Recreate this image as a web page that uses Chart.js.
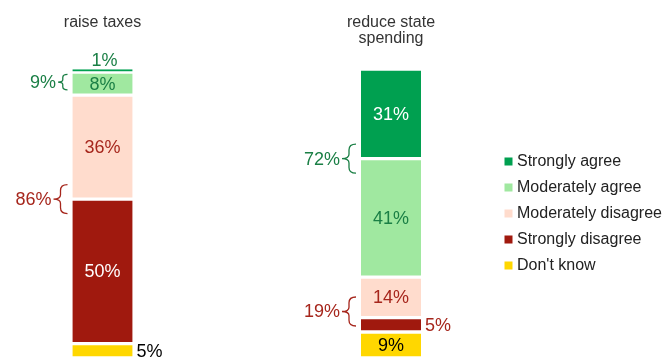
<!DOCTYPE html>
<html>
<head>
<meta charset="utf-8">
<script src="https://cdn.jsdelivr.net/npm/chart.js@4.4.1/dist/chart.umd.min.js"></script>
<style>
  html, body { margin: 0; padding: 0; background: #fff; }
  #wrap { width: 663px; height: 358px; }
</style>
</head>
<body>
<div id="wrap"><canvas id="chart" width="663" height="358"></canvas></div>
<script>
const categories = [['raise taxes'], ['reduce state', 'spending']];
const seriesNames = ["Don't know", 'Strongly disagree', 'Moderately disagree', 'Moderately agree', 'Strongly agree'];

// stacked bottom -> top
const dontKnow = [5, 9];
const stronglyDisagree = [50, 5];
const moderatelyDisagree = [36, 14];
const moderatelyAgree = [8, 41];
const stronglyAgree = [1, 31];

const FONT = '"Liberation Sans", Arial, sans-serif';
const GREEN_TEXT = '#1a7f45';
const RED_TEXT = '#a6261c';

const fills = ['#ffd700', '#a0190e', '#ffdccd', '#a0e8a0', '#00a050'];
const insideColors = ['#000000', '#ffffff', RED_TEXT, GREEN_TEXT, '#ffffff'];
const outsideColors = ['#000000', RED_TEXT, RED_TEXT, GREEN_TEXT, GREEN_TEXT];

// brace groups: which datasets are summed together
const groups = [
  { sets: [3, 4], color: GREEN_TEXT },
  { sets: [1, 2], color: RED_TEXT }
];

const seriesValues = [dontKnow, stronglyDisagree, moderatelyDisagree, moderatelyAgree, stronglyAgree];

const datasets = seriesValues.map((values, k) => ({
  label: seriesNames[k],
  data: values.map((v, i) => ({ x: i, y: v })),
  backgroundColor: fills[k],
  borderColor: '#ffffff',
  borderSkipped: false,
  borderWidth: (c) => (c.raw && c.raw.y < 2)
    ? { top: 0, bottom: 1, left: 0, right: 0 }
    : { top: 2, bottom: 2, left: 0, right: 0 },
  barThickness: 60
}));

function drawBrace(ctx, xTip, yc, h, w) {
  const x1 = xTip + w;
  const xm = xTip + w / 2;
  const top = yc - h / 2;
  const bot = yc + h / 2;
  ctx.beginPath();
  ctx.moveTo(x1, top);
  ctx.quadraticCurveTo(xm, top, xm, top + h * 0.2);
  ctx.lineTo(xm, yc - h * 0.15);
  ctx.quadraticCurveTo(xm, yc, xTip, yc);
  ctx.quadraticCurveTo(xm, yc, xm, yc + h * 0.15);
  ctx.lineTo(xm, bot - h * 0.2);
  ctx.quadraticCurveTo(xm, bot, x1, bot);
  ctx.stroke();
}

const labelPlugin = {
  id: 'segmentLabels',
  afterDatasetsDraw(chart) {
    const { ctx } = chart;
    ctx.save();
    ctx.font = '18px ' + FONT;

    chart.data.datasets.forEach((ds, di) => {
      const meta = chart.getDatasetMeta(di);
      meta.data.forEach((bar, i) => {
        const v = ds.data[i].y;
        const text = v + '%';
        const mid = (bar.y + bar.base) / 2;
        if (v < 2) {
          ctx.fillStyle = outsideColors[di];
          ctx.textAlign = 'center';
          ctx.textBaseline = 'alphabetic';
          ctx.fillText(text, bar.x + 2, bar.y - 3);
        } else if (v <= 5) {
          ctx.fillStyle = outsideColors[di];
          ctx.textAlign = 'left';
          ctx.textBaseline = 'middle';
          ctx.fillText(text, bar.x + bar.width / 2 + 4, mid + 1);
        } else {
          ctx.fillStyle = insideColors[di];
          ctx.textAlign = 'center';
          ctx.textBaseline = 'middle';
          ctx.fillText(text, bar.x, mid + 1);
        }
      });
    });

    // group totals with braces
    categories.forEach((cat, i) => {
      groups.forEach((g) => {
        const lower = chart.getDatasetMeta(g.sets[0]).data[i];
        const upper = chart.getDatasetMeta(g.sets[1]).data[i];
        const total = g.sets.reduce((s, k) => s + seriesValues[k][i], 0);
        const top = upper.y;
        const bottom = lower.base;
        const boundary = upper.base;
        const h = Math.min(29, (bottom - top) * 0.6);
        const w = Math.min(14, 4 + h * 0.35);
        const lo = top + h / 2 + 6;
        const hi = bottom - h / 2 - 6;
        const yc = lo > hi ? (lo + hi) / 2 : Math.min(Math.max(boundary, lo), hi);
        const xRight = lower.x - lower.width / 2 - 5;
        const xTip = xRight - w;

        ctx.strokeStyle = g.color;
        ctx.lineWidth = 1.3;
        drawBrace(ctx, xTip, yc, h, w);

        ctx.fillStyle = g.color;
        ctx.textAlign = 'right';
        ctx.textBaseline = 'middle';
        ctx.fillText(total + '%', xTip - 2, yc + 1);
      });
    });
    ctx.restore();
  }
};

new Chart(document.getElementById('chart'), {
  type: 'bar',
  data: { datasets: datasets },
  plugins: [labelPlugin],
  options: {
    responsive: false,
    devicePixelRatio: 1,
    animation: false,
    events: [],
    layout: { padding: { top: 14, left: 0, right: 0, bottom: 0 } },
    scales: {
      x: {
        type: 'linear',
        position: 'top',
        stacked: true,
        offset: false,
        bounds: 'data',
        min: -0.3553,
        max: 1.3709,
        grid: { display: false, drawTicks: false },
        border: { display: false },
        afterBuildTicks: (scale) => {
          scale.ticks = categories.map((c, i) => ({ value: i }));
        },
        // chart.js reserves the tick padding twice; keep it once
        afterFit: (scale) => {
          scale.height -= scale.options.ticks.padding;
        },
        ticks: {
          padding: 22.5,
          maxRotation: 0,
          autoSkip: false,
          crossAlign: 'far',
          color: '#333333',
          font: { family: FONT, size: 16, lineHeight: 1.02 },
          callback: (v) => categories[v]
        }
      },
      y: {
        display: false,
        stacked: true,
        min: 0,
        max: 100
      }
    },
    plugins: {
      tooltip: { enabled: false },
      legend: {
        position: 'right',
        fullSize: false,
        reverse: true,
        maxWidth: 165,
        labels: {
          usePointStyle: true,
          pointStyle: 'rect',
          boxWidth: 1,
          boxHeight: 8,
          padding: 10,
          color: '#222222',
          font: { family: FONT, size: 16 },
          generateLabels: (chart) => Chart.defaults.plugins.legend.labels.generateLabels(chart)
            .map((l) => Object.assign(l, { lineWidth: 0, pointStyle: 'rect' }))
        }
      }
    }
  }
});
</script>
</body>
</html>
